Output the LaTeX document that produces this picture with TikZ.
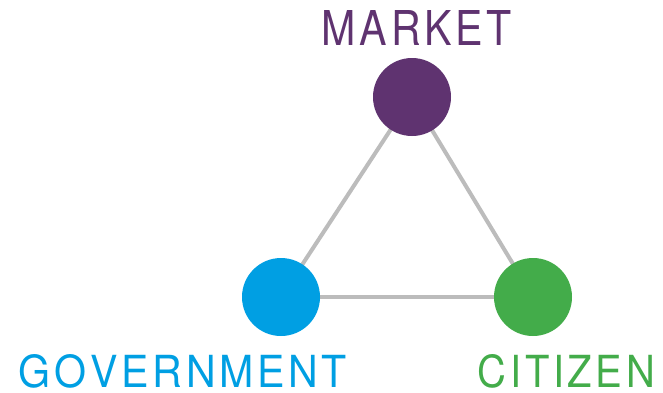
\documentclass[tikz,border=0pt]{standalone}
\usepackage{fontspec}
\setmainfont{TeX Gyre Heros}
\usepackage{graphicx}
\usetikzlibrary{backgrounds}
\definecolor{mkcol}{HTML}{5F3370}
\definecolor{gvcol}{HTML}{009FE3}
\definecolor{ctcol}{HTML}{43AC4A}
\definecolor{lncol}{HTML}{BCBCBC}
\newcommand\kk{\kern0.9pt}
\tikzset{
  dot/.style={circle, minimum size=78pt, inner sep=0pt, draw=none},
  link/.style={draw=lncol, line width=4pt},
  lab/.style={inner sep=0pt, anchor=center}
}
\begin{document}
\begin{tikzpicture}[x=1pt,y=-1pt]
\useasboundingbox (0,0) rectangle (663,392);
\node[dot, fill=mkcol] (m) at (412,97) {};
\node[dot, fill=gvcol] (g) at (281,297) {};
\node[dot, fill=ctcol] (c) at (533,297) {};
\begin{scope}[on background layer]
\draw[link] (m.center) -- (g.center);
\draw[link] (m.center) -- (c.center);
\draw[link] (g.center) -- (c.center);
\end{scope}
\node[lab, text=mkcol] (tm) at (417,27.5) {\resizebox{190pt}{35pt}{\fontsize{10}{12}\selectfont M\kk A\kk R\kk K\kk E\kk T}};
\node[lab, text=gvcol] (tg) at (183,371) {\resizebox{328pt}{33pt}{\fontsize{10}{12}\selectfont G\kk O\kk V\kk E\kk R\kk N\kk M\kk E\kk N\kk T}};
\node[lab, text=ctcol] (tc) at (566.5,371) {\resizebox{177pt}{33pt}{\fontsize{10}{12}\selectfont C\kk I\kk T\kk I\kk Z\kk E\kk N}};
\end{tikzpicture}
\end{document}
